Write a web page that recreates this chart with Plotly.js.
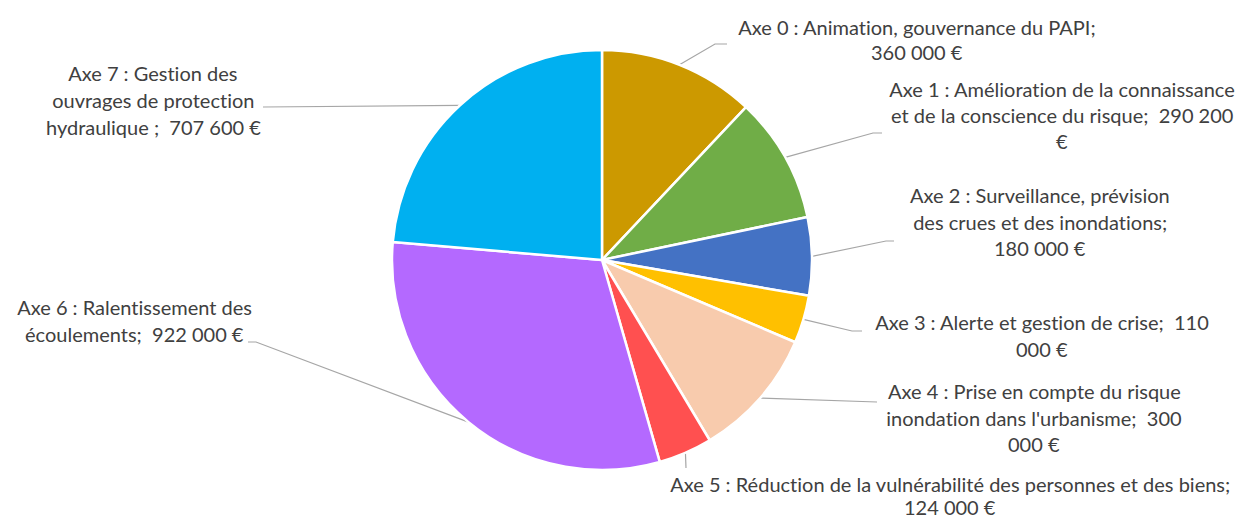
<!DOCTYPE html>
<html>
<head>
<meta charset="utf-8">
<script src="https://cdn.plot.ly/plotly-3.0.1.min.js"></script>
<style>
  html, body { margin: 0; padding: 0; background: #ffffff; }
  #chart { width: 1238px; height: 520px; }
  #chart text {
    font-variant-ligatures: none !important;
    font-feature-settings: "liga" 0, "clig" 0, "calt" 0, "dlig" 0 !important;
  }
</style>
</head>
<body>
<div id="chart"></div>
<script>
const categories = ['Axe 0', 'Axe 1', 'Axe 2', 'Axe 3', 'Axe 4', 'Axe 5', 'Axe 6', 'Axe 7'];
const budgets = [360000, 290200, 180000, 110000, 300000, 124000, 922000, 707600];
const sliceColors = ['#CC9900', '#70AD47', '#4472C4', '#FFC000', '#F8CBAD', '#FF5050', '#B469FF', '#00B0F0'];
const labelLines = [
  ['Axe 0 : Animation, gouvernance du PAPI;', '360 000 €'],
  ['Axe 1 : Amélioration de la connaissance', 'et de la conscience du risque;  290 200', '€'],
  ['Axe 2 : Surveillance, prévision', 'des crues et des inondations;', '180 000 €'],
  ['Axe 3 : Alerte et gestion de crise;  110', '000 €'],
  ['Axe 4 : Prise en compte du risque', "inondation dans l'urbanisme;  300", '000 €'],
  ['Axe 5 : Réduction de la vulnérabilité des personnes et des biens;', '124 000 €'],
  ['Axe 6 : Ralentissement des', 'écoulements;  922 000 €'],
  ['Axe 7 : Gestion des', 'ouvrages de protection', 'hydraulique ;  707 600 €'],
];

// layout in pixels (page is 1238 x 520)
const W = 1238;
const H = 520;
const pie = { cx: 602, cy: 260, r: 210 };
// label block: centre x, first line y, line gap; leader: elbow and end point near the label
const labelBox = [
  { x: 917, y: 27, gap: 25, elbow: [715, 44], end: [727, 44] },
  { x: 1062, y: 89, gap: 26, elbow: [873, 133], end: [882, 133] },
  { x: 1040, y: 195, gap: 26.5, elbow: [886, 241], end: [894, 241] },
  { x: 1042, y: 322, gap: 27, elbow: [852, 331], end: [862, 331] },
  { x: 1034, y: 391, gap: 26.5, elbow: [868, 402], end: [877, 402] },
  { x: 950, y: 484, gap: 23, elbow: [686, 468], end: [686, 468] },
  { x: 134, y: 307, gap: 27, elbow: [256, 342], end: [248, 342] },
  { x: 153, y: 73, gap: 27, elbow: [263, 107], end: [263, 107] },
];

const total = budgets.reduce((a, b) => a + b, 0);
let cum = 0;
const midAngles = budgets.map((v) => {
  const mid = (cum + v / 2) / total * 2 * Math.PI;
  cum += v;
  return mid;
});

const traces = [
  {
    type: 'pie',
    labels: categories,
    values: budgets,
    sort: false,
    direction: 'clockwise',
    rotation: 0,
    textinfo: 'none',
    hoverinfo: 'label+value',
    showlegend: false,
    marker: { colors: sliceColors, line: { color: '#ffffff', width: 2.5 } },
    domain: {
      x: [(pie.cx - pie.r) / W, (pie.cx + pie.r) / W],
      y: [(H - pie.cy - pie.r) / H, (H - pie.cy + pie.r) / H],
    },
  },
];

midAngles.forEach((a, i) => {
  const sx = pie.cx + pie.r * Math.sin(a);
  const sy = pie.cy - pie.r * Math.cos(a);
  const box = labelBox[i];
  traces.push({
    type: 'scatter',
    mode: 'lines',
    x: [sx, box.elbow[0], box.end[0]],
    y: [sy, box.elbow[1], box.end[1]],
    line: { color: '#a6a6a6', width: 1.2 },
    hoverinfo: 'skip',
    showlegend: false,
  });
});

const annotations = [];
labelLines.forEach((lines, i) => {
  lines.forEach((text, k) => {
    annotations.push({
      xref: 'x', yref: 'y',
      x: labelBox[i].x,
      y: labelBox[i].y + k * labelBox[i].gap,
      text,
      showarrow: false,
      xanchor: 'center',
      yanchor: 'middle',
      font: { family: 'Lato, sans-serif', size: 20, color: '#404040' },
    });
  });
});

const layout = {
  width: W,
  height: H,
  margin: { l: 0, r: 0, t: 0, b: 0 },
  paper_bgcolor: '#ffffff',
  plot_bgcolor: 'rgba(0,0,0,0)',
  showlegend: false,
  xaxis: { range: [0, W], visible: false, fixedrange: true },
  yaxis: { range: [H, 0], visible: false, fixedrange: true },
  annotations,
};

Plotly.newPlot('chart', traces, layout, { displayModeBar: false, staticPlot: true });
</script>
</body>
</html>
